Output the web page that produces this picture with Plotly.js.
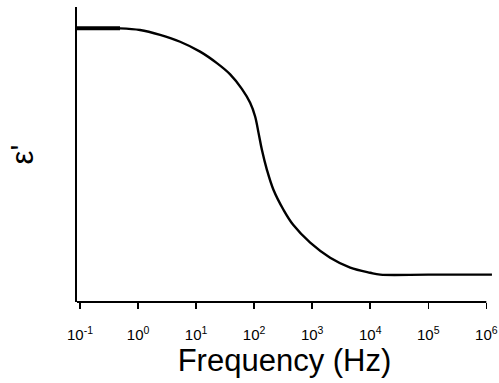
<!DOCTYPE html>
<html>
<head>
<meta charset="utf-8">
<script src="https://cdn.plot.ly/plotly-3.0.1.min.js"></script>
<style>
html,body{margin:0;padding:0;background:#fff;}
#chart{width:499px;height:383px;}
</style>
</head>
<body>
<div id="chart"></div>
<script>
// Frequency (Hz) and permittivity
var freq = [0.0887, 0.489, 1.08, 2.40, 5.30, 11.7, 22.8, 38.6, 61.4, 85.3, 104, 119, 136, 166, 215, 320, 470, 924, 2040, 4520, 10000, 14900, 100000, 1250000];
var epsReal = [10, 10, 9.94, 9.76, 9.51, 9.15, 8.73, 8.32, 7.79, 7.28, 6.78, 6.18, 5.56, 4.83, 4.10, 3.37, 2.82, 2.17, 1.62, 1.26, 1.07, 1.0, 1.0, 1.0];
// thicker low-frequency plateau segment
var plateauFreq = [0.0887, 0.489];
var plateauEps = [10, 10];
var tickVals = [0.1, 1, 10, 100, 1000, 10000, 100000, 1000000];
var tickText = ['10<sup>-1</sup>', '10<sup>0</sup>', '10<sup>1</sup>', '10<sup>2</sup>', '10<sup>3</sup>', '10<sup>4</sup>', '10<sup>5</sup>', '10<sup>6</sup>'];

var xMin = -1.052, xMax = 6.098;
var axisEnd = (Math.log10(tickVals[tickVals.length - 1]) - xMin) / (xMax - xMin);

var traces = [
  {x: freq, y: epsReal, mode: 'lines', line: {color: '#000', width: 2.4, shape: 'spline', smoothing: 1}, hoverinfo: 'skip'},
  {x: plateauFreq, y: plateauEps, mode: 'lines', line: {color: '#000', width: 4}, hoverinfo: 'skip'}
];

var layout = {
  width: 499, height: 383,
  margin: {l: 77, r: 7, t: 7, b: 81},
  paper_bgcolor: '#fff', plot_bgcolor: '#fff',
  showlegend: false,
  font: {family: 'Liberation Sans, Arial, sans-serif', color: '#000'},
  xaxis: {
    type: 'log', range: [xMin, xMax],
    tickmode: 'array', tickvals: tickVals, ticktext: tickText,
    ticks: 'outside', ticklen: 6, tickwidth: 1.5, tickcolor: '#000',
    tickfont: {size: 15, color: '#000'}, ticklabelstandoff: 13,
    showgrid: false, zeroline: false, showline: false,
    title: {text: 'Frequency (Hz)', font: {size: 31, color: '#000'}, standoff: 6}
  },
  yaxis: {
    range: [0, 10.78],
    showticklabels: false, ticks: '', showgrid: false, zeroline: false,
    showline: true, linecolor: '#000', linewidth: 2,
    title: {text: "ε'", font: {size: 31, color: '#000'}, standoff: 32}
  },
  shapes: [
    {type: 'line', xref: 'x domain', yref: 'paper', x0: 0, x1: axisEnd, y0: 0, y1: 0,
     line: {color: '#000', width: 2}}
  ]
};

Plotly.newPlot('chart', traces, layout, {displayModeBar: false, staticPlot: true});
</script>
</body>
</html>
